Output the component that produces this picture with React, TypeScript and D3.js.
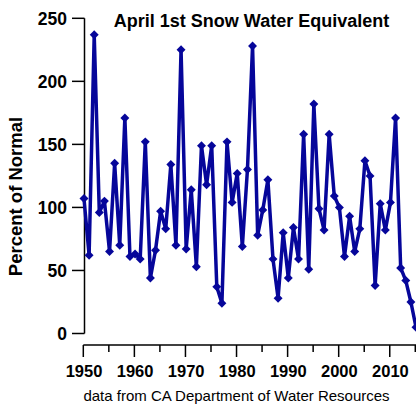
import * as d3 from 'd3';
import React from 'react';

const years = [
  1950, 1951, 1952, 1953, 1954, 1955, 1956, 1957, 1958, 1959,
  1960, 1961, 1962, 1963, 1964, 1965, 1966, 1967, 1968, 1969,
  1970, 1971, 1972, 1973, 1974, 1975, 1976, 1977, 1978, 1979,
  1980, 1981, 1982, 1983, 1984, 1985, 1986, 1987, 1988, 1989,
  1990, 1991, 1992, 1993, 1994, 1995, 1996, 1997, 1998, 1999,
  2000, 2001, 2002, 2003, 2004, 2005, 2006, 2007, 2008, 2009,
  2010, 2011, 2012, 2013, 2014, 2015,
];
const percentOfNormal = [
  107, 62, 237, 96, 105, 65, 135, 70, 171, 61,
  63, 59, 152, 44, 66, 97, 83, 134, 70, 225,
  67, 114, 53, 149, 118, 149, 37, 24, 152, 104,
  127, 69, 130, 228, 78, 98, 122, 59, 28, 80,
  44, 84, 59, 158, 51, 182, 99, 82, 158, 109,
  100, 61, 93, 65, 83, 137, 125, 38, 103, 82,
  104, 171, 52, 42, 25, 5,
];
const yTicks = [0, 50, 100, 150, 200, 250];
const xMajorTicks = [1950, 1960, 1970, 1980, 1990, 2000, 2010];
const xMinorTicks = [1955, 1965, 1975, 1985, 1995, 2005, 2015];

const W = 416;
const H = 407;
const font = '"Liberation Sans", Arial, Helvetica, sans-serif';
const blue = '#06069a';

export default function App() {
  const x = d3.scaleLinear().domain([1950, 2015]).range([84, 416]);
  const y = d3.scaleLinear().domain([0, 250]).range([333.5, 18.3]);
  const axisY = 345;

  const pts = years.map((yr, i) => ({ yr, v: percentOfNormal[i] }));
  const line = d3.line<{ yr: number; v: number }>()
    .x(d => x(d.yr))
    .y(d => y(d.v));
  const marker = d3.symbol(d3.symbolSquare, 40)();

  return (
    <div style={{ position: 'fixed', left: 0, top: 0 }}>
      <svg width={W} height={H} style={{ display: 'block' }} fontFamily={font}>
        <rect width={W} height={H} fill="white" />

        <text x={251.5} y={27} textAnchor="middle" fontSize={18} fontWeight="bold">
          April 1st Snow Water Equivalent
        </text>

        {/* y axis */}
        <line x1={84.5} x2={84.5} y1={y(250)} y2={y(0)} stroke="black" strokeWidth={1.5} />
        {yTicks.map(t => (
          <g key={t}>
            <line x1={72} x2={84.5} y1={y(t)} y2={y(t)} stroke="black" strokeWidth={1.5} />
            <text x={67} y={y(t)} dy="0.36em" textAnchor="end" fontSize={17.5} fontWeight="bold">
              {t}
            </text>
          </g>
        ))}
        <text
          transform={`translate(22,${196.5}) rotate(-90)`}
          textAnchor="middle"
          fontSize={18.5}
          fontWeight="bold"
        >
          Percent of Normal
        </text>

        {/* x axis */}
        <line x1={83.3} x2={W} y1={axisY} y2={axisY} stroke="black" strokeWidth={1.5} />
        {xMajorTicks.map(t => (
          <g key={t}>
            <line x1={x(t) - 0.7} x2={x(t) - 0.7} y1={axisY} y2={axisY + 12} stroke="black" strokeWidth={1.5} />
            <text x={x(t)} y={377} textAnchor="middle" fontSize={16.5} fontWeight="bold">
              {t}
            </text>
          </g>
        ))}
        {xMinorTicks.map(t => (
          <line key={t} x1={x(t) - 0.7} x2={x(t) - 0.7} y1={axisY} y2={axisY + 7} stroke="black" strokeWidth={1.5} />
        ))}
        <text x={236.5} y={400.5} textAnchor="middle" fontSize={15}>
          data from CA Department of Water Resources
        </text>

        {/* series */}
        <path d={line(pts) ?? ''} fill="none" stroke={blue} strokeWidth={3.5} strokeLinejoin="round" />
        {pts.map(p => (
          <path
            key={p.yr}
            d={marker ?? ''}
            transform={`translate(${x(p.yr)},${y(p.v)}) rotate(45)`}
            fill={blue}
          />
        ))}
      </svg>
    </div>
  );
}
